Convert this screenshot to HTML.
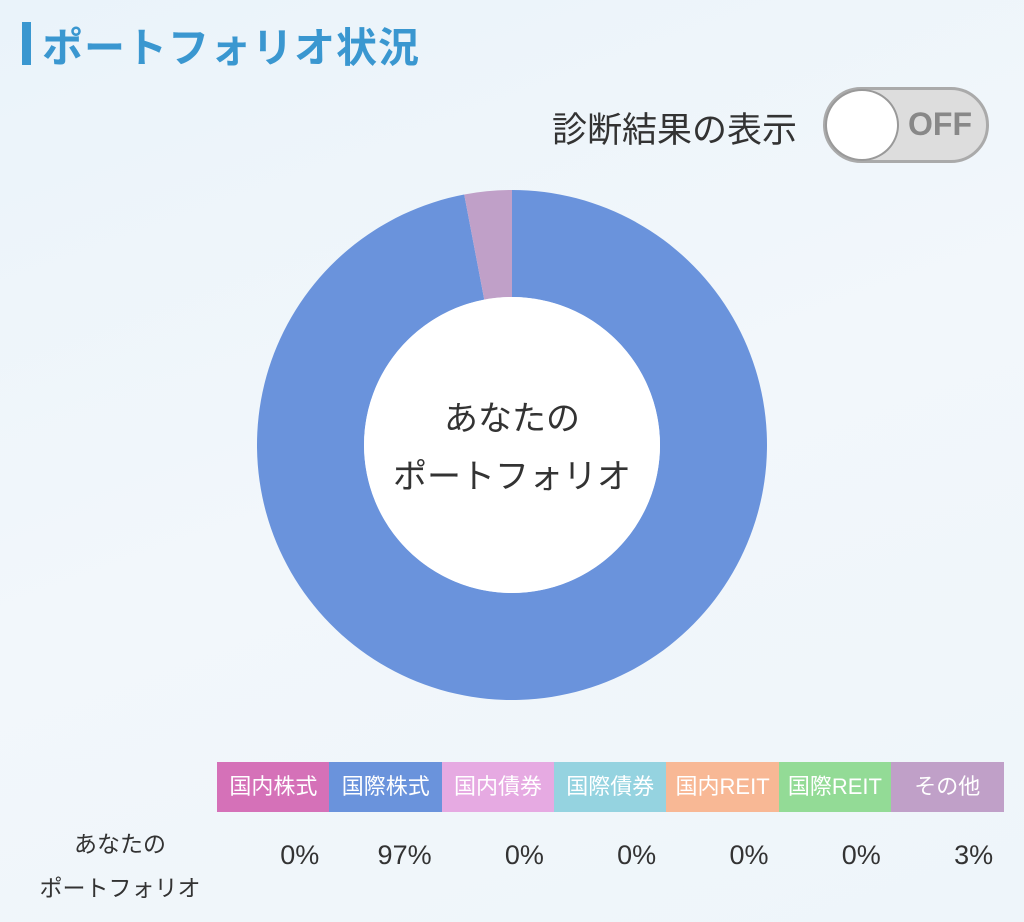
<!DOCTYPE html>
<html><head><meta charset="utf-8">
<style>
body{margin:0;width:1024px;height:922px;overflow:hidden;background:linear-gradient(160deg,#eaf3fa 0%,#f2f7fb 50%,#eef5fa 100%);font-family:"Liberation Sans","Noto Sans CJK JP",sans-serif;position:relative}
.abs{position:absolute}
</style></head><body>
<div class="abs" style="left:22px;top:22px;width:9px;height:43px;background:#3a97d0"></div>
<div class="abs" style="left:42px;top:14px;font-size:41px;font-weight:bold;color:#3a97d0;letter-spacing:1px">ポートフォリオ状況</div>
<div class="abs" style="left:552px;top:102px;font-size:35px;color:#333">診断結果の表示</div>
<div class="abs" style="left:823px;top:87px;width:166px;height:76px;border-radius:38px;background:#ddd;border:3px solid #aaa;box-sizing:border-box">
<div class="abs" style="left:-1px;top:-1px;width:74px;height:72px;border-radius:50%;background:#fff;border:2px solid #999;box-sizing:border-box"></div>
<div class="abs" style="left:82px;top:16px;font-size:32px;font-weight:bold;color:#888">OFF</div>
</div>
<svg class="abs" style="left:0;top:0" width="1024" height="922" id="chart">
<circle cx="512" cy="445" r="148" fill="#fff"/>
<text x="512" y="430" font-size="34" text-anchor="middle" fill="#333" font-family="Liberation Sans, Noto Sans CJK JP, sans-serif">あなたの</text>
<text x="512" y="488" font-size="34" text-anchor="middle" fill="#333" font-family="Liberation Sans, Noto Sans CJK JP, sans-serif">ポートフォリオ</text>
</svg>
<div class="abs" style="left:20px;top:822px;width:200px;text-align:center;font-size:23px;line-height:44px;color:#333">あなたの<br>ポートフォリオ</div>
<div id="legend"></div>
<script>
const categories=["国内株式","国際株式","国内債券","国際債券","国内REIT","国際REIT","その他"];
const values=[0,97,0,0,0,0,3];
const colors=["#d571b8","#6a93dc","#e6aae2","#95d3e0","#f8b895","#93db96","#c0a0c8"];
const svg=document.getElementById('chart');
const NS="http://www.w3.org/2000/svg";
const cx=512,cy=445,R=255,r=148;
const total=values.reduce((a,b)=>a+b,0);
function pt(a,rad){return [cx+rad*Math.sin(a),cy-rad*Math.cos(a)];}
let acc=0;
const hole=svg.querySelector('circle');
values.forEach((v,i)=>{
  if(v<=0)return;
  const a0=acc/total*2*Math.PI;acc+=v;const a1=acc/total*2*Math.PI;
  const large=(a1-a0)>Math.PI?1:0;
  const [x0,y0]=pt(a0,R),[x1,y1]=pt(a1,R),[x2,y2]=pt(a1,r),[x3,y3]=pt(a0,r);
  const p=document.createElementNS(NS,'path');
  p.setAttribute('d',`M${x0},${y0}A${R},${R} 0 ${large} 1 ${x1},${y1}L${x2},${y2}A${r},${r} 0 ${large} 0 ${x3},${y3}Z`);
  p.setAttribute('fill',colors[i]);
  
  
  svg.insertBefore(p,hole);
});
const lg=document.getElementById('legend');
const x0=217,w=112.3;
categories.forEach((c,i)=>{
  const d=document.createElement('div');
  d.className='abs';
  d.style.cssText=`left:${x0+i*w}px;top:762px;width:${w+0.5}px;height:50px;background:${colors[i]};color:#fff;font-size:22px;line-height:50px;text-align:center;white-space:nowrap;overflow:hidden`;
  d.textContent=c;
  
  
  lg.appendChild(d);
  const t=document.createElement('div');
  t.className='abs';
  t.style.cssText=`left:${x0+i*w}px;top:840px;width:${w-10}px;font-size:27px;text-align:right;color:#333`;
  t.textContent=values[i]+'%';
  
  
  lg.appendChild(t);
});
</script>
</body></html>
